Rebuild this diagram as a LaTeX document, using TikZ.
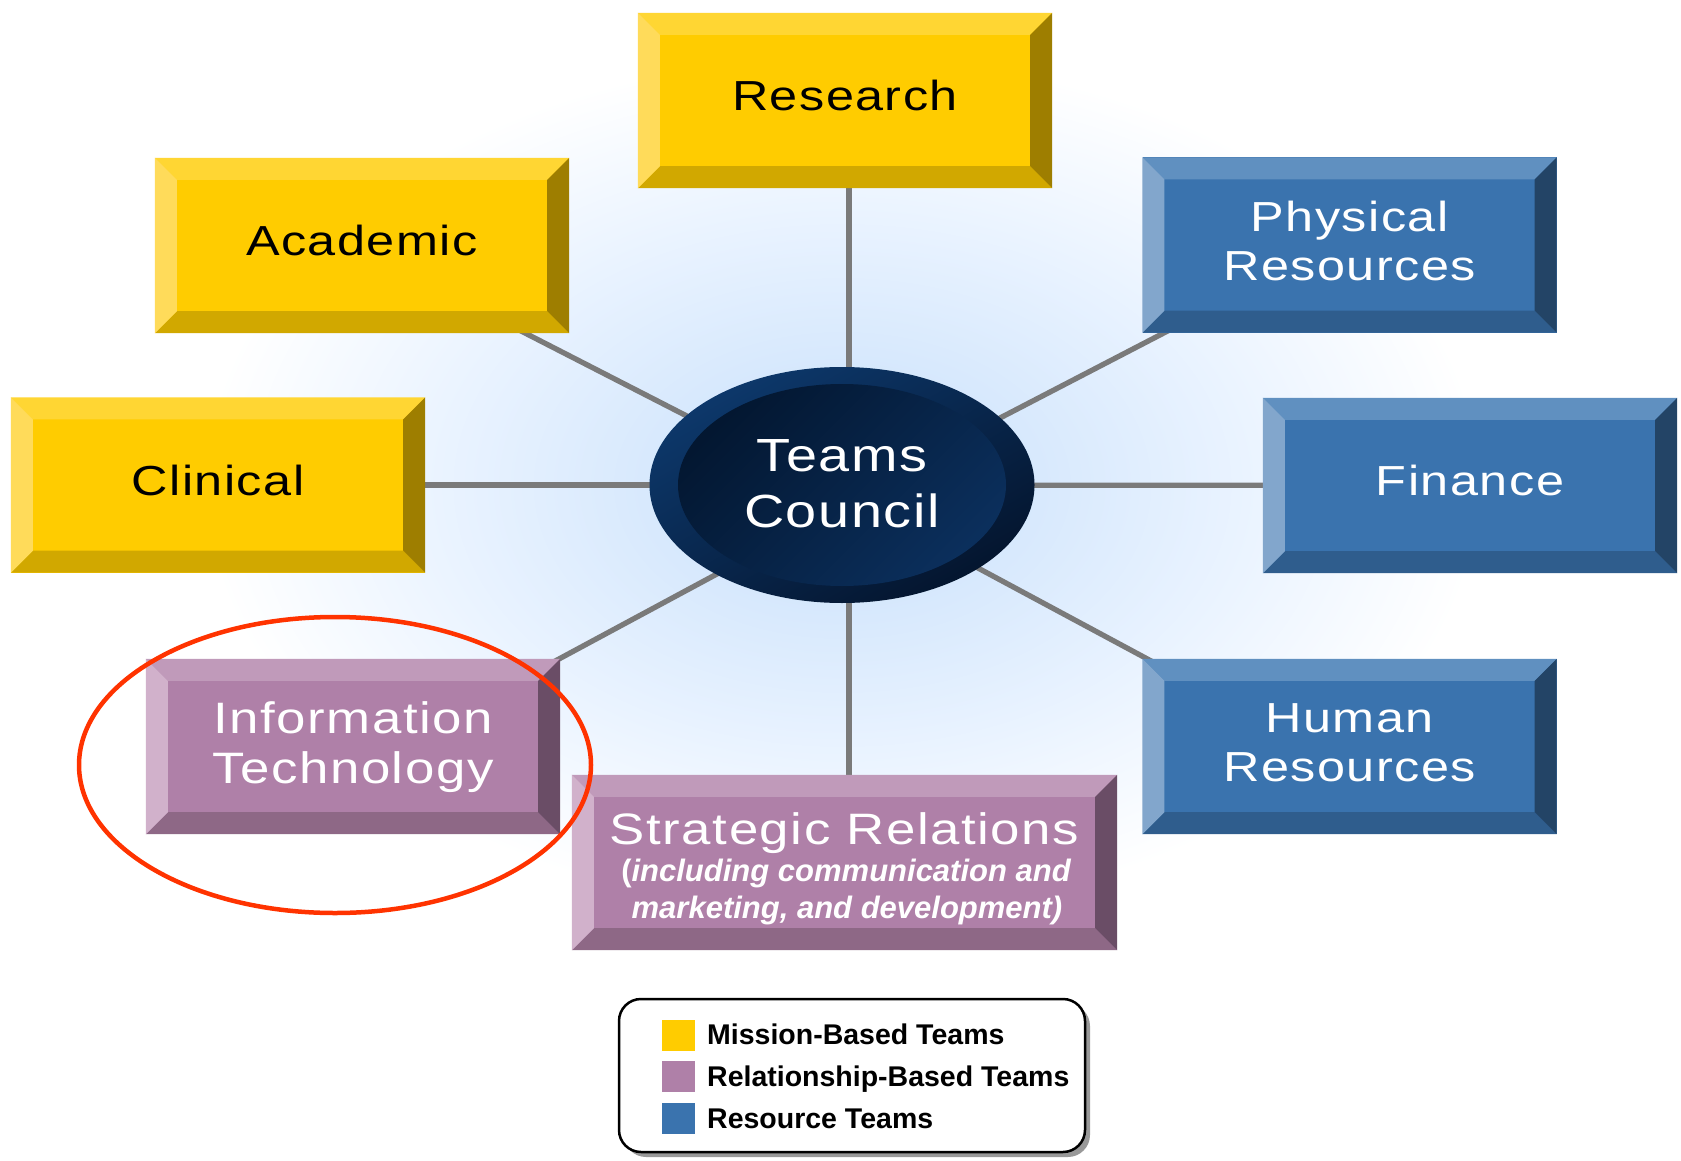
\documentclass[tikz,border=0pt]{standalone}
\usepackage{fontspec}
\setmainfont{Liberation Sans}
\newfontfamily\boxfont[FakeStretch=1.2,LetterSpace=3.5]{Liberation Sans}
\usetikzlibrary{shapes.geometric,shadows}

% team palettes: face and four bevel shades
\definecolor{ylwface}{HTML}{FFCC00}
\definecolor{ylwtop}{HTML}{FFD633}
\definecolor{ylwleft}{HTML}{FFDB5A}
\definecolor{ylwbot}{HTML}{D1A800}
\definecolor{ylwright}{HTML}{9E7E00}
\definecolor{bluface}{HTML}{3A73AE}
\definecolor{blutop}{HTML}{6090C0}
\definecolor{bluleft}{HTML}{82A6CC}
\definecolor{blubot}{HTML}{2F5D8D}
\definecolor{bluright}{HTML}{234466}
\definecolor{purface}{HTML}{AF80A8}
\definecolor{purtop}{HTML}{C09ABA}
\definecolor{purleft}{HTML}{D1B1CB}
\definecolor{purbot}{HTML}{8E6886}
\definecolor{purright}{HTML}{6A4D66}
\definecolor{ringlight}{HTML}{0D386B}
\definecolor{ringdark}{HTML}{04152E}
\definecolor{coredark}{HTML}{031731}
\definecolor{corelight}{HTML}{0B2F5C}
\definecolor{linkgray}{HTML}{7A7A7A}
\definecolor{markred}{HTML}{FF3300}

% soft halo behind the hub; the path border sits at 25bp
\pgfdeclareradialshading{glow}{\pgfpoint{0bp}{0bp}}{%
  rgb(0bp)=(0.82,0.90,0.99); rgb(7bp)=(0.84,0.91,0.99);
  rgb(15bp)=(0.91,0.95,1); rgb(25bp)=(1,1,1); rgb(50bp)=(1,1,1)}

\pgfdeclarelayer{back}
\pgfdeclarelayer{links}
\pgfsetlayers{back,links,main}

% four bevel strips around a team box
\newcommand\teambevel[2]{%
  \fill[#2top] (#1.north west) -- (#1.north east) -- ([shift={(-22,22)}]#1.north east) -- ([shift={(22,22)}]#1.north west) -- cycle;
  \fill[#2bot] (#1.south west) -- (#1.south east) -- ([shift={(-22,-22)}]#1.south east) -- ([shift={(22,-22)}]#1.south west) -- cycle;
  \fill[#2left] (#1.north west) -- ([shift={(22,22)}]#1.north west) -- ([shift={(22,-22)}]#1.south west) -- (#1.south west) -- cycle;
  \fill[#2right] (#1.north east) -- ([shift={(-22,22)}]#1.north east) -- ([shift={(-22,-22)}]#1.south east) -- (#1.south east) -- cycle;
}

\tikzset{
  team/.style={rectangle, minimum width=414, minimum height=175, inner sep=0pt, fill=#1face},
  boxtext/.style={font=\boxfont\fontsize{42}{49}\selectfont, align=center, inner sep=0pt, text depth=0pt},
  link/.style={draw=linkgray, line width=5.3pt},
  swatch/.style={rectangle, minimum width=33, minimum height=31, inner sep=0pt},
  legtext/.style={anchor=base west, inner sep=0pt, font=\bfseries\fontsize{28.5}{30}\selectfont},
}

\begin{document}
\begin{tikzpicture}[x=1pt,y=-1pt]
\useasboundingbox (0,0) rectangle (1681,1161);

\begin{pgfonlayer}{back}
  \fill[white] (0,0) rectangle (1681,1161);
  \shade[shading=glow] (842,485) ellipse [x radius=640, y radius=430];
\end{pgfonlayer}

% mission-based teams
\node[team=ylw] (research) at (845,100.5) {};
\teambevel{research}{ylw}
\node[boxtext] (research-t) at ([yshift=5pt]research.center) {Research};

\node[team=ylw] (academic) at (362,245.5) {};
\teambevel{academic}{ylw}
\node[boxtext] (academic-t) at ([yshift=5pt]academic.center) {Academic};

\node[team=ylw] (clinical) at (218,485) {};
\teambevel{clinical}{ylw}
\node[boxtext] (clinical-t) at ([yshift=5pt]clinical.center) {Clinical};

% resource teams
\node[team=blu] (physical) at (1349.5,245) {};
\teambevel{physical}{blu}
\node[boxtext, text=white] (physical-t) at ([yshift=4pt]physical.center) {Physical\\Resources};

\node[team=blu] (finance) at (1470,485.5) {};
\teambevel{finance}{blu}
\node[boxtext, text=white] (finance-t) at ([yshift=5pt]finance.center) {Finance};

\node[team=blu] (human) at (1349.5,746.5) {};
\teambevel{human}{blu}
\node[boxtext, text=white] (human-t) at ([yshift=4pt]human.center) {Human\\Resources};

% relationship-based teams
\node[team=pur] (infotech) at (353,746.5) {};
\teambevel{infotech}{pur}
\node[boxtext, text=white, font=\boxfont\fontsize{44}{50}\selectfont] (infotech-t) at ([yshift=4pt]infotech.center) {Information\\Technology};

\node[team=pur, minimum width=545] (strategic) at (844.5,862.5) {};
\teambevel{strategic}{pur}
\node[anchor=base, inner sep=0pt, text=white, font=\boxfont\fontsize{44}{50}\selectfont] (strategic-t) at (844.5,844) {Strategic Relations};
\node[anchor=base, inner sep=0pt, text=white, font=\bfseries\fontsize{31}{37}\selectfont] (strategic-s1) at (846,881) {{\upshape(}\itshape including communication and};
\node[anchor=base, inner sep=0pt, text=white, font=\bfseries\itshape\fontsize{31}{37}\selectfont] (strategic-s2) at (847,918) {marketing, and development)};

% council hub
\node[ellipse, minimum width=385, minimum height=236, inner sep=0pt,
      top color=ringlight, bottom color=ringdark, shading angle=30] (council) at (842,485) {};
\shade[top color=coredark, bottom color=corelight, shading angle=45] (council.center) ellipse [x radius=164, y radius=101];
\node[boxtext, text=white, font=\boxfont\fontsize{46.5}{56}\selectfont] (council-t) at ([yshift=1pt]council.center) {Teams\\Council};

% spokes
\begin{pgfonlayer}{links}
  \draw[link] ([xshift=4pt]research.center) -- ([xshift=4pt]research.center |- council.center);
  \draw[link] ([xshift=4.5pt]strategic.center) -- ([xshift=4.5pt]strategic.center |- council.center);
  \draw[link] (clinical.center) -- (council.center);
  \draw[link] (finance.center) -- (council.center);
  \draw[link] ([yshift=-3.9pt]academic.center) -- ([yshift=-10.6pt]council.center);
  \draw[link] ([yshift=-23.3pt]infotech.center) -- ([yshift=-21.7pt]council.center);
  \draw[link] ([yshift=8.4pt]physical.center) -- ([yshift=-15pt]council.center);
  \draw[link] ([yshift=-21pt]human.center) -- ([yshift=-10pt]council.center);
\end{pgfonlayer}

% legend
\node[draw=black, line width=2.5pt, rounded corners=22pt, fill=white,
      minimum width=466, minimum height=153, inner sep=0pt,
      drop shadow={shadow xshift=5pt, shadow yshift=-5pt, fill=black!40, opacity=1}] (legend) at (852,1075.5) {};
\node[swatch, fill=ylwface] (sw-mission) at (678.5,1035.5) {};
\node[swatch, fill=purface] (sw-relation) at (678.5,1076.5) {};
\node[swatch, fill=bluface] (sw-resource) at (678.5,1118.5) {};
\node[legtext] (lt-mission) at (707,1044) {Mission-Based Teams};
\node[legtext] (lt-relation) at (707,1086) {Relationship-Based Teams};
\node[legtext] (lt-resource) at (707,1128) {Resource Teams};

% highlight ring
\draw[markred, line width=4.5pt] (335,765) ellipse [x radius=256, y radius=148];
\end{tikzpicture}
\end{document}
